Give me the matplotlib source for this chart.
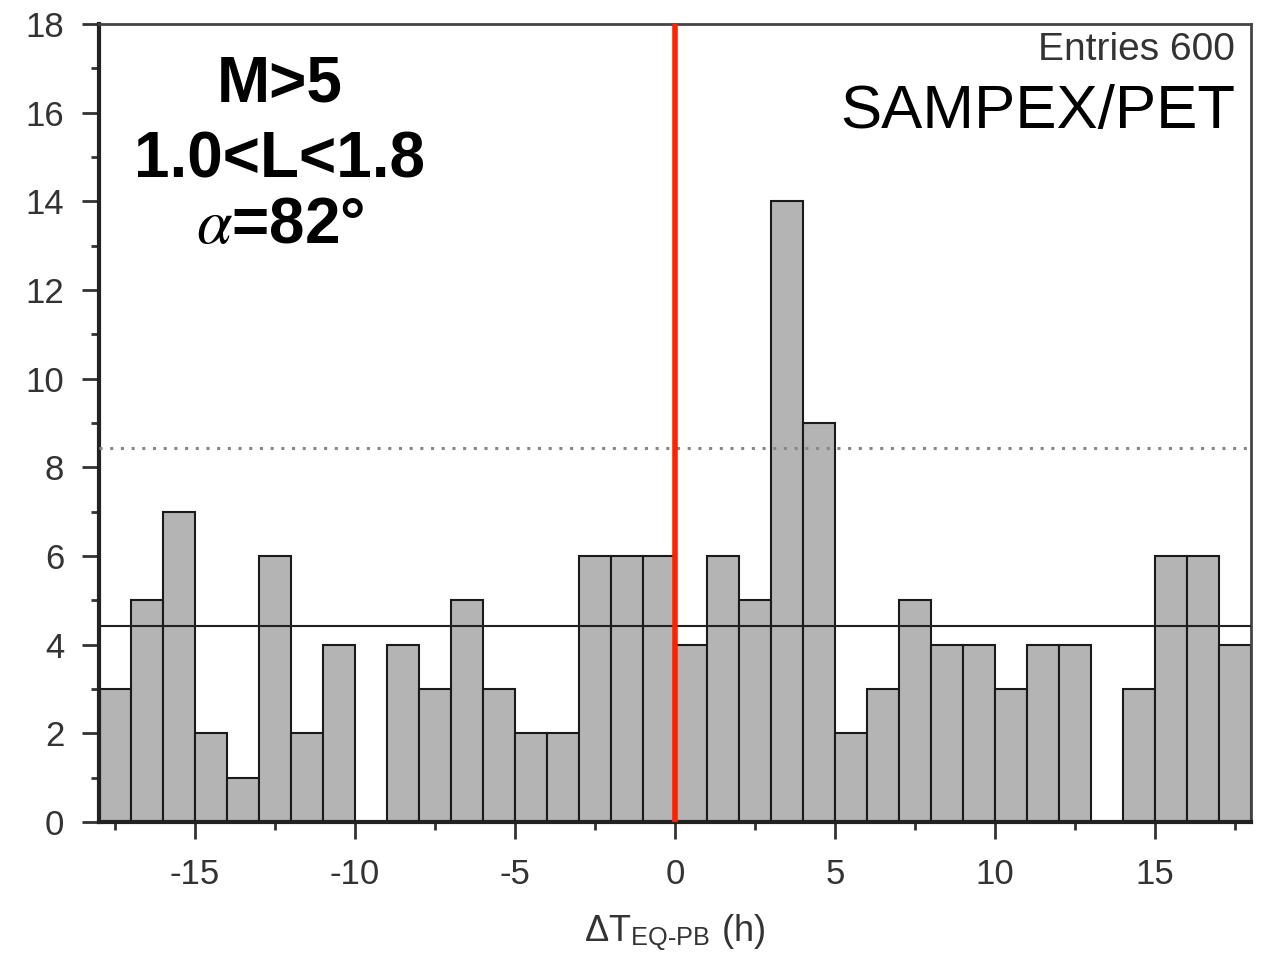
import matplotlib
matplotlib.use("Agg")
import matplotlib.pyplot as plt
import numpy as np

# ヒストグラムのデータ (ΔT = -18 .. 18 h, 1 h 幅)
bin_edges = np.arange(-18, 19, 1)
counts = [3, 5, 7, 2, 1, 6, 2, 4, 0, 4, 3, 5, 3, 2, 2, 6, 6, 6,
          4, 6, 5, 14, 9, 2, 3, 5, 4, 4, 3, 4, 4, 0, 3, 6, 6, 4]
mean_level = 4.42
threshold_level = 8.44
x_ticks = [-15, -10, -5, 0, 5, 10, 15]
y_ticks = [0, 2, 4, 6, 8, 10, 12, 14, 16, 18]
label_lines = ["M>5", "1.0<L<1.8", r"$\alpha$=82°"]

plt.rcParams['font.family'] = ['Liberation Sans', 'DejaVu Sans']
plt.rcParams['mathtext.fontset'] = 'stix'
plt.rcParams['axes.unicode_minus'] = False

fig = plt.figure(figsize=(12.61, 9.6), dpi=100)
ax = fig.add_axes([99 / 1261, 138 / 960, 1152 / 1261, 798 / 960])

# 棒グラフ
ax.bar(bin_edges[:-1], counts, width=1, align='edge',
       color='#b4b4b4', edgecolor='#1a1a1a', linewidth=1.5, zorder=2)

# 平均と閾値の線
ax.axhline(mean_level, color='#222222', linewidth=1.5, zorder=3)
ax.axhline(threshold_level, color='#888888', linewidth=2.2, linestyle=(0, (1, 2.5)), zorder=3)
# 地震時刻
ax.axvline(0, color='#ff2200', linewidth=4, zorder=4)

ax.set_xlim(-18, 18)
ax.set_ylim(0, 18)
ax.set_xticks(x_ticks)
ax.set_xticks(np.arange(-17.5, 18, 2.5), minor=True)
ax.set_yticks(y_ticks)
ax.set_yticks(np.arange(0, 19, 1), minor=True)
ax.tick_params(which='major', length=12, width=2, labelsize=25,
               labelcolor='#333333', color='#333333')
ax.tick_params(which='minor', length=6, width=2, color='#333333')
ax.tick_params(axis='y', which='major', pad=13)
ax.tick_params(axis='x', which='major', pad=14)

for s in ['left', 'bottom']:
    ax.spines[s].set_linewidth(3)
    ax.spines[s].set_color('#222222')
for s in ['top', 'right']:
    ax.spines[s].set_linewidth(2)
    ax.spines[s].set_color('#444444')

ax.set_xlabel(r'ΔT$_{\mathregular{EQ\text{-}PB}}$ (h)', fontsize=26, color='#333333', labelpad=15)

# テキスト
ys = [0.962, 0.866, 0.784]
for txt, y in zip(label_lines, ys):
    ax.text(0.157, y, txt, transform=ax.transAxes, ha='center', va='top',
            fontsize=46, fontweight='bold', color='black')
ax.text(0.986, 0.99, 'Entries 600', transform=ax.transAxes, ha='right', va='top',
        fontsize=28, color='#333333')
ax.text(0.986, 0.925, 'SAMPEX/PET', transform=ax.transAxes, ha='right', va='top',
        fontsize=44.5, color='black')

fig.savefig('out.png', dpi=100)
